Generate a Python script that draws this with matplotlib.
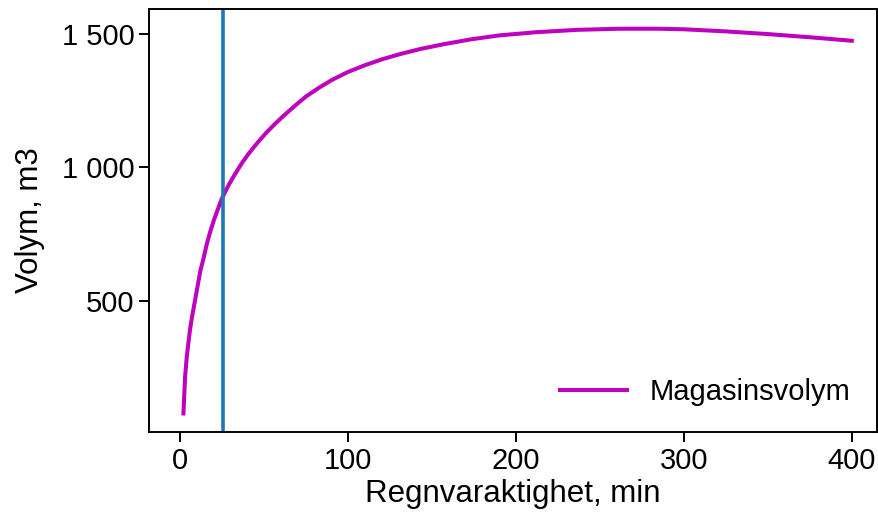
import numpy as np
import matplotlib
matplotlib.use("Agg")
import matplotlib.pyplot as plt
from matplotlib.ticker import FuncFormatter

# regnvaraktighet (min) och magasinsvolym (m3)
duration = [2, 3, 4, 5, 6, 7, 8, 9, 10, 12, 14, 16, 18, 20, 22, 25, 29, 33,
            37, 41, 46, 51, 56, 61, 66, 70, 75, 83, 91, 100, 110, 120, 131,
            143, 157, 173, 190, 212, 237, 262, 285, 300, 325, 350, 375, 400]
volume = [78, 215, 290, 345, 395, 435, 470, 505, 540, 610, 660, 715, 760,
          800, 835, 885, 935, 978, 1018, 1053, 1092, 1128, 1160, 1190, 1218,
          1240, 1266, 1300, 1330, 1358, 1383, 1405, 1425, 1444, 1462, 1480,
          1495, 1507, 1516, 1520, 1520, 1518, 1510, 1500, 1488, 1475]
t_crit = 25.4  # vertikal linje

plt.rcParams['font.family'] = ['Liberation Sans', 'DejaVu Sans']
plt.rcParams['font.size'] = 21

fig = plt.figure(figsize=(8.79, 5.2), dpi=100)
ax = fig.add_axes([0.1695, 0.169, 0.8282, 0.8137])

ax.plot(duration, volume, color='m', linewidth=2.9, label='Magasinsvolym')
ax.axvline(t_crit, color='tab:blue', linewidth=2.6)

ax.set_xlabel('Regnvaraktighet, min', fontsize=22.5, labelpad=3)
ax.set_ylabel('Volym, m3', fontsize=22.5, labelpad=12)
ax.set_xticks([0, 100, 200, 300, 400])
ax.set_yticks([500, 1000, 1500])
ax.yaxis.set_major_formatter(FuncFormatter(lambda v, p: f"{v:,.0f}".replace(",", " ")))
ax.set_xlim(-18.5, 415)
ax.set_ylim(8, 1594)

for s in ax.spines.values():
    s.set_linewidth(1.4)
ax.tick_params(width=1.4, length=7, labelsize=21)

ax.legend(loc='lower right', frameon=False, handlelength=2.3, handletextpad=0.8)

fig.savefig('out.png', dpi=100)
